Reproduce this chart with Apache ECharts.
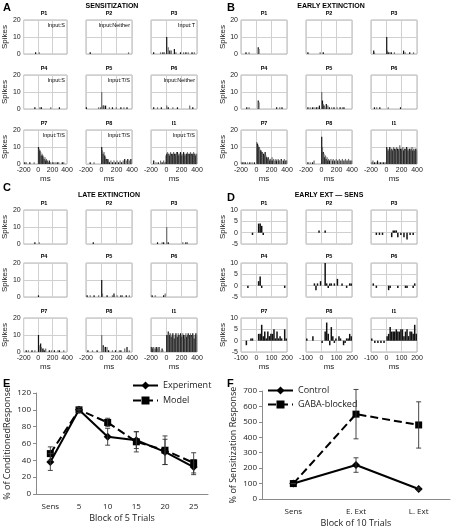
<!DOCTYPE html>
<html><head><meta charset="utf-8">
<script src="https://cdn.jsdelivr.net/npm/echarts@6/dist/echarts.min.js"></script>
<style>html,body{margin:0;padding:0;background:#fff}#c{width:451px;height:530px}</style>
</head><body><div id="c"></div>
<script>
// ---------------- DATA ----------------
const plotNames = ['P1','P2','P3','P4','P5','P6','P7','P8','I1'];
const inputLabels = ['Input:S','Input:Neither','Input:T','Input:S','Input:T/S','Input:Neither','Input:T/S','Input:T/S','Input:T/S'];
const histTicksLong = [-200, 0, 200, 400];
const histTicksShort = [-100, 0, 100, 200];
// histogram bins: [bin start (ms), spike count], 10 ms bins

// A: Sensitization
const sensP1 = [[-40,1],[10,1]];
const sensP2 = [[-150,1],[350,1]];
const sensP3 = [[-170,1],[-80,1],[-50,1],[-30,1],[0,10],[20,4],[40,2],[60,2],[100,3],[120,1],[180,1],[220,1],[250,1],[280,1],[330,1],[360,1]];
const sensP4 = [[-50,1],[20,1],[40,1],[170,1],[290,1]];
const sensP5 = [[-200,1],[-40,1],[-10,1],[0,10],[20,2],[30,2],[50,2],[100,1],[140,1],[190,1],[250,1],[290,1],[330,1]];
const sensP6 = [[-170,1],[-120,1],[-70,1],[0,2],[20,1],[80,1],[140,1],[300,2],[340,1]];
const sensP7 = [[-190,1],[-170,1],[-120,1],[-60,1],[0,10],[10,9],[20,8],[30,7],[40,5],[50,6],[60,5],[70,4],[80,3],[90,4],[100,2],[110,3],[120,2],[140,1],[150,2],[170,1],[200,1],[230,1],[260,1],[280,1],[330,1],[350,1]];
const sensP8 = [[-150,1],[-100,1],[0,10],[10,8],[20,6],[30,7],[40,5],[50,4],[60,3],[70,2],[80,3],[90,2],[100,1],[120,2],[140,1],[160,2],[180,1],[200,2],[220,1],[240,2],[260,1],[280,2],[300,3],[320,2],[340,3],[360,2],[380,3]];
const sensI1Pre = [[-170,2],[-140,1],[-110,1],[-80,2],[-60,1],[-40,2],[-20,1],[-10,5]];
const sensI1Post = [6,7,6,6,5,7,6,5,6,7,6,5,6,7,7,6,5,6,7,6,5,6,7,6,5,6,6,7,6,5,6,7,6,5,6,7,6,6,5,6];

// B: Early extinction
const earlyP1 = [[-140,1],[-100,1],[20,4],[30,3]];
const earlyP2 = [[-180,1],[-20,1],[20,1]];
const earlyP3 = [[-170,2],[-160,1],[0,10],[10,2],[20,1],[40,1],[60,1],[100,1],[220,2],[240,1],[300,1],[350,1]];
const earlyP4 = [[-130,1],[-100,1],[20,5],[30,4],[260,1],[300,1],[330,1]];
const earlyP5 = [[-180,1],[-150,1],[-120,1],[-100,1],[-70,1],[-50,1],[-30,2],[0,10],[10,5],[20,3],[30,2],[40,1],[60,3],[80,2],[100,1],[130,1],[160,1],[200,1],[240,1],[270,1],[290,1]];
const earlyP6 = [[-160,1],[-130,1],[-90,1],[20,1],[180,1]];
const earlyP7 = [[-190,1],[-170,1],[-150,1],[-120,1],[-90,1],[-60,1],[-30,1],[0,13],[10,12],[20,11],[30,10],[40,9],[50,8],[60,8],[70,7],[80,6],[90,6],[100,5],[110,7],[120,5],[130,4],[140,3],[150,4],[160,3],[170,2],[180,3],[190,2],[200,4],[210,2],[220,3],[240,2],[250,3],[260,2],[280,3],[290,2],[300,2],[320,3],[330,2],[350,2],[360,3],[380,2],[390,2]];
const earlyP8 = [[-180,1],[-150,1],[-120,1],[-100,2],[0,16],[10,10],[20,7],[30,6],[40,4],[50,5],[60,3],[70,4],[80,2],[90,3],[100,2],[120,3],[140,2],[150,3],[170,2],[190,3],[210,2],[230,3],[250,2],[270,3],[290,2],[310,3],[330,2],[350,3],[370,2],[390,2]];
const earlyI1Pre = [[-190,1],[-180,2],[-160,1],[-140,1],[-120,2],[-100,1],[-80,1],[-60,1],[-40,1],[-20,1]];
const earlyI1Post = [10,9,8,9,10,8,9,9,8,10,9,8,9,10,9,8,9,11,9,8,9,10,8,9,9,8,10,9,8,9,9,8,9,10,8,9,8,9,9,8];

// C: Late extinction
const lateP1 = [[-50,1],[10,1]];
const lateP2 = [[-110,1]];
const lateP3 = [[-120,1],[-60,1],[-40,1],[0,10],[20,1],[210,1],[250,1],[270,1]];
const lateP4 = [[0,1]];
const lateP5 = [[-190,1],[-150,1],[-100,1],[-40,1],[0,10],[10,2],[70,1],[140,1],[160,2],[200,1],[250,1],[270,1],[320,1],[360,1]];
const lateP6 = [[-190,1],[-150,1],[-40,1],[-20,2]];
const lateP7 = [[-170,1],[-140,1],[-90,1],[-50,1],[0,10],[20,4],[30,5],[40,3],[60,2],[70,2],[80,1],[100,2],[150,1],[180,1],[220,1],[270,1],[290,1],[350,1]];
const lateP8 = [[-180,1],[-120,1],[-60,1],[0,10],[20,4],[30,3],[50,3],[70,3],[90,1],[140,1],[180,1],[230,1],[250,1],[300,2],[330,3],[360,1]];
const lateI1Pre = [[-200,3],[-190,3],[-180,2],[-170,3],[-150,2],[-140,3],[-130,3],[-120,2],[-100,3],[-90,1],[-60,2],[-50,1]];
const lateI1Post = [10,10,12,11,10,11,9,10,11,10,8,10,11,10,9,11,10,8,11,10,9,11,10,8,10,11,9,10,11,8,10,11,10,9,11,10,8,10,11,10];

// D: Early extinction minus sensitization
const diffP1 = [[-30,-1],[10,4],[20,4],[30,3],[40,-1]];
const diffP2 = [[-20,1],[20,1]];
const diffP3 = [[-70,-1],[-50,-1],[-30,-1],[30,-2],[40,1],[50,1],[60,1],[70,-2],[90,-1],[110,-2],[130,-3],[150,-1],[170,-1]];
const diffP4 = [[-60,-1],[10,2],[20,4],[30,-1],[180,-1]];
const diffP5 = [[-50,1],[-40,-2],[-30,1],[-10,2],[20,10],[30,1],[40,-1],[50,1],[60,1],[80,1],[100,3],[130,1],[160,-1],[180,1],[190,1]];
const diffP6 = [[-90,1],[-70,-1],[10,-2],[20,-1],[70,-1],[120,-1],[130,-1],[170,-1],[180,1]];
const diffP7 = [[-70,-2],[-40,1],[-30,1],[10,3],[20,3],[30,7],[40,2],[50,4],[60,1],[70,4],[80,2],[90,3],[100,3],[110,5],[120,1],[130,4],[140,1],[150,2],[160,1],[180,5],[190,1]];
const diffP8 = [[-100,1],[-60,2],[0,-1],[20,4],[30,8],[40,3],[50,-2],[60,6],[70,2],[80,-1],[90,1],[110,2],[120,1],[140,-2],[150,-1],[160,1],[170,1],[180,3],[190,2]];
const diffI1 = [[-100,1],[-80,-1],[-60,-1],[-40,-1],[-20,-1],[0,2],[10,3],[20,6],[30,4],[40,4],[50,4],[60,5],[70,4],[80,4],[90,5],[100,5],[110,2],[120,4],[130,5],[140,2],[150,4],[160,4],[170,3],[180,7],[190,3]];

// E
const eCategories = ['Sens','5','10','15','20','25'];
const eExperiment = [38,100,68,64,50,32];
const eExperimentErr = [10,0,10,10,15,9];
const eModel = [48,100,85,62,52,37];
const eModelErr = [8,3,5,12,17,12];

// F
const fCategories = ['Sens','E. Ext','L. Ext'];
const fControl = [100,220,65];
const fControlErr = [0,47,8];
const fGaba = [100,550,480];
const fGabaErr = [0,160,150];

// ------------- build -------------
function joinBins(pre, post){ return pre.concat(post.map((v,i)=>[i*10, v])); }
const sensData  = [sensP1,sensP2,sensP3,sensP4,sensP5,sensP6,sensP7,sensP8, joinBins(sensI1Pre, sensI1Post)];
const earlyData = [earlyP1,earlyP2,earlyP3,earlyP4,earlyP5,earlyP6,earlyP7,earlyP8, joinBins(earlyI1Pre, earlyI1Post)];
const lateData  = [lateP1,lateP2,lateP3,lateP4,lateP5,lateP6,lateP7,lateP8, joinBins(lateI1Pre, lateI1Post)];
const diffData  = [diffP1,diffP2,diffP3,diffP4,diffP5,diffP6,diffP7,diffP8,diffI1];

const FONT = 'Liberation Sans, Arial, sans-serif';
const EF = 'Open Sans, sans-serif';
const W = 46, H = 34;
const leftCols = [21, 86, 151], rightCols = [241, 306, 371];
const topRows = [20, 75, 130], botRows = [210, 263, 318];
const panels = [
  {data: sensData, cols: leftCols, rows: topRows, inputs: true, ticks: histTicksLong, ymin:0, ymax:20, yint:10},
  {data: earlyData, cols: rightCols, rows: topRows, ticks: histTicksLong, ymin:0, ymax:20, yint:10},
  {data: lateData, cols: leftCols, rows: botRows, ticks: histTicksLong, ymin:0, ymax:20, yint:10},
  {data: diffData, cols: rightCols, rows: botRows, ticks: histTicksShort, ymin:-5, ymax:10, yint:5, diff:true}
];

const grids=[], xAxes=[], yAxes=[], series=[], graphics=[];
function txt(x,y,text,size,weight,align,family){
  graphics.push({type:'text', x, y, silent:true, z:100,
    style:{text, fontSize:size, fontWeight:weight||'normal', fontFamily:family||FONT, fill:'#000',
      align:align||'center', verticalAlign:'middle'}});
}

panels.forEach(p=>{
  const t = p.ticks;
  const step = t[1]-t[0];
  p.data.forEach((d,k)=>{
    const r = Math.floor(k/3), c = k%3;
    const gi = grids.length;
    const left = p.cols[c], top = p.rows[r];
    grids.push({left, top, width:W, height:H, show:true, borderColor:'#b4b4b4', borderWidth:1, backgroundColor:'#fff'});
    xAxes.push({gridIndex:gi, type:'value', min:t[0], max:t[t.length-1], interval:step,
      axisLine:{show:false}, axisTick:{show:false},
      splitLine:{show:true, lineStyle:{color:'#d0d0d0', width:1}},
      axisLabel:{show:r===2, fontSize:7, fontFamily:FONT, color:'#222', margin:3, showMinLabel:true, showMaxLabel:true},
      name: r===2 ? 'ms' : '', nameLocation:'middle', nameGap:10,
      nameTextStyle:{fontSize:8, fontFamily:FONT, color:'#222'}});
    yAxes.push({gridIndex:gi, type:'value', min:p.ymin, max:p.ymax, interval:p.yint,
      axisLine:{show:false}, axisTick:{show:false},
      splitLine:{show:true, lineStyle:{color:'#d0d0d0', width:1}},
      axisLabel:{show:c===0, fontSize:7, fontFamily:FONT, color:'#222', margin:3},
      name: c===0 ? 'Spikes' : '', nameLocation:'middle', nameGap:11, nameRotate:90,
      nameTextStyle:{fontSize:8, fontFamily:FONT, color:'#222'}});
    const binW = 10;
    series.push({type:'bar', xAxisIndex:gi, yAxisIndex:gi, barWidth: p.diff ? 1.5 : 1.2,
      data: d.map(([b,v])=>[b+binW/2, v]),
      itemStyle:{color: p.diff ? '#111' : (q => q.dataIndex % 2 ? '#6e6e6e' : '#111')},
      silent:true, animation:false});
    txt(left+W/2, top-7, plotNames[k], 5.5, 'bold');
    if (p.inputs) txt(left+W-2, top+5, inputLabels[k], 5.5, 'normal', 'right');
  });
});

// panel letters & headers
txt(3, 8, 'A', 11, 'bold', 'left');
txt(112, 6, 'SENSITIZATION', 7, 'bold');
txt(227, 8, 'B', 11, 'bold', 'left');
txt(331, 6, 'EARLY EXTINCTION', 7, 'bold');
txt(3, 188, 'C', 11, 'bold', 'left');
txt(109, 195, 'LATE EXTINCTION', 7, 'bold');
txt(227, 198, 'D', 11, 'bold', 'left');
txt(329, 195, 'EARLY EXT \u2014 SENS', 7, 'bold');
txt(3, 384, 'E', 11, 'bold', 'left');
txt(227, 384, 'F', 11, 'bold', 'left');

// error bar renderer
function errRender(params, api){
  const x = api.value(0), lo = api.value(1), hi = api.value(2);
  const a = api.coord([x, lo]), b = api.coord([x, hi]);
  const cap = 2.5;
  const style = {stroke:'#333', lineWidth:0.9};
  return {type:'group', children:[
    {type:'line', shape:{x1:a[0], y1:a[1], x2:b[0], y2:b[1]}, style},
    {type:'line', shape:{x1:a[0]-cap, y1:a[1], x2:a[0]+cap, y2:a[1]}, style},
    {type:'line', shape:{x1:b[0]-cap, y1:b[1], x2:b[0]+cap, y2:b[1]}, style}
  ]};
}
function errData(vals, errs){ return vals.map((v,i)=>[i, v-errs[i], v+errs[i]]); }

function lineChart(gi, cats, ymax, yint, xName, yName){
  xAxes.push({gridIndex:gi, type:'category', data:cats,
    axisLine:{lineStyle:{color:'#8a8a8a'}}, axisTick:{length:3, lineStyle:{color:'#8a8a8a'}},
    axisLabel:{fontSize:8, fontFamily:EF, color:'#222', margin:9},
    name:xName, nameLocation:'middle', nameGap:20, nameTextStyle:{fontSize:9, fontFamily:EF, color:'#222'}});
  yAxes.push({gridIndex:gi, type:'value', min:0, max:ymax, interval:yint,
    axisLine:{show:true, lineStyle:{color:'#8a8a8a'}}, axisTick:{show:true, length:3, lineStyle:{color:'#8a8a8a'}},
    splitLine:{show:false},
    axisLabel:{fontSize:8, fontFamily:EF, color:'#222', margin:5},
    name:yName, nameLocation:'middle', nameGap:24, nameRotate:90,
    nameTextStyle:{fontSize:9, fontFamily:EF, color:'#222'}});
}

// E
const eG = grids.length;
grids.push({left:36, top:393, width:172, height:101});
lineChart(eG, eCategories, 120, 20, 'Block of 5 Trials', '% of ConditionedResponse');
series.push({name:'Experiment', type:'line', xAxisIndex:eG, yAxisIndex:eG, data:eExperiment, symbol:'diamond', symbolSize:8,
  lineStyle:{color:'#000', width:2}, itemStyle:{color:'#000'}, z:3, animation:false});
series.push({name:'Model', type:'line', xAxisIndex:eG, yAxisIndex:eG, data:eModel, symbol:'rect', symbolSize:7,
  lineStyle:{color:'#000', width:2, type:'dashed'}, itemStyle:{color:'#000'}, z:3, animation:false});
series.push({type:'custom', xAxisIndex:eG, yAxisIndex:eG, renderItem:errRender, data:errData(eExperiment, eExperimentErr), encode:{x:0, y:[1,2]}, z:4, silent:true, animation:false});
series.push({type:'custom', xAxisIndex:eG, yAxisIndex:eG, renderItem:errRender, data:errData(eModel, eModelErr), encode:{x:0, y:[1,2]}, z:4, silent:true, animation:false});

// F
const fG = grids.length;
grids.push({left:262, top:391, width:188, height:108});
lineChart(fG, fCategories, 700, 100, 'Block of 10 Trials', '% of Sensitization Response');
series.push({name:'Control', type:'line', xAxisIndex:fG, yAxisIndex:fG, data:fControl, symbol:'diamond', symbolSize:8,
  lineStyle:{color:'#000', width:2}, itemStyle:{color:'#000'}, z:3, animation:false});
series.push({name:'GABA-blocked', type:'line', xAxisIndex:fG, yAxisIndex:fG, data:fGaba, symbol:'rect', symbolSize:7,
  lineStyle:{color:'#000', width:2, type:'dashed'}, itemStyle:{color:'#000'}, z:3, animation:false});
series.push({type:'custom', xAxisIndex:fG, yAxisIndex:fG, renderItem:errRender, data:errData(fControl, fControlErr), encode:{x:0, y:[1,2]}, z:4, silent:true, animation:false});
series.push({type:'custom', xAxisIndex:fG, yAxisIndex:fG, renderItem:errRender, data:errData(fGaba, fGabaErr), encode:{x:0, y:[1,2]}, z:4, silent:true, animation:false});

const chart = echarts.init(document.getElementById('c'), null, {renderer:'canvas'});
chart.setOption({
  animation:false,
  backgroundColor:'#fff',
  grid:grids, xAxis:xAxes, yAxis:yAxes, series,
  graphic:graphics,
  legend:[
    {data:['Experiment','Model'], left:132, top:381, orient:'vertical', itemGap:6, itemWidth:25, itemHeight:10, padding:0,
      selectedMode:false, textStyle:{fontSize:9, fontFamily:EF, color:'#222'}},
    {data:['Control','GABA-blocked'], left:267, top:386, orient:'vertical', itemGap:5, itemWidth:25, itemHeight:10, padding:0,
      selectedMode:false, textStyle:{fontSize:9, fontFamily:EF, color:'#222'}}
  ]
});
</script>
</body></html>
